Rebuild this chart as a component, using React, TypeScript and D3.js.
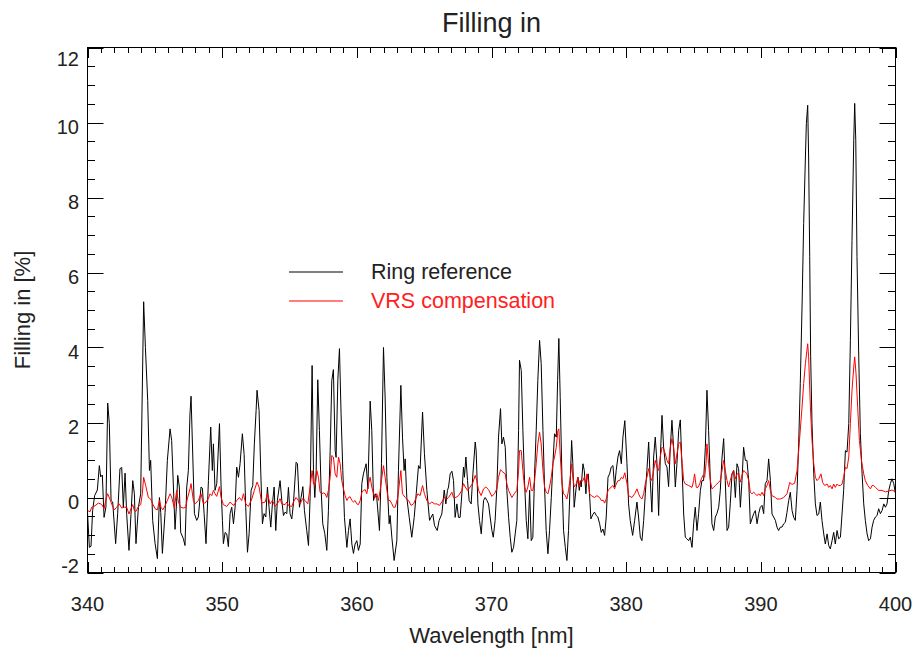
import React, { useEffect, useRef } from 'react';
import * as d3 from 'd3';

// wavelength [nm], filling in [%]
const ringReference: [number, number][] = [
  [340.0, -0.4], [340.14, -1.33], [340.26, -1.3], [340.38, -0.35], [340.53, 0.05], [340.73, 0.2],
  [340.88, 0.85], [340.98, 0.55], [341.1, 0.6], [341.23, -0.53], [341.37, -0.25], [341.5, 2.52],
  [341.62, 1.97], [341.75, -0.08], [341.87, -0.12], [342.09, -1.23], [342.24, -0.43], [342.41, 0.77],
  [342.54, 0.8], [342.66, -0.26], [342.79, 0.65], [342.91, -0.45], [343.08, -1.41], [343.23, -0.45],
  [343.36, 0.45], [343.48, 0.1], [343.6, -1.23], [343.78, -0.26], [343.95, 0.1], [344.17, 5.22],
  [344.3, 4.0], [344.47, 2.59], [344.6, 0.72], [344.69, 0.99], [344.84, -0.61], [345.02, -1.23],
  [345.19, -1.63], [345.34, 0.0], [345.44, -0.4], [345.56, -1.49], [345.76, -0.4], [345.93, 0.99],
  [346.13, 1.83], [346.25, 1.52], [346.38, 0.28], [346.5, -0.85], [346.62, -0.1], [346.7, 0.59],
  [346.82, 0.28], [346.92, -0.93], [347.12, -1.1], [347.24, -1.28], [347.37, 0.28], [347.49, 0.72],
  [347.61, 2.23], [347.69, 2.7], [347.94, -0.43], [348.11, -0.61], [348.23, -0.52], [348.43, 0.28],
  [348.53, 0.25], [348.66, -0.43], [348.8, -1.23], [348.98, 0.45], [349.15, 1.88], [349.27, 0.72],
  [349.35, 1.43], [349.47, 0.19], [349.6, 0.37], [349.8, 1.97], [349.92, 0.28], [350.02, -0.61],
  [350.09, -1.23], [350.22, -0.93], [350.34, -0.97], [350.46, -1.31], [350.59, -0.43], [350.71, -0.26],
  [350.84, -0.7], [350.96, -0.26], [351.08, 0.81], [351.21, 0.54], [351.33, 0.9], [351.5, 1.7],
  [351.63, 1.15], [351.75, -0.26], [351.88, -1.46], [352.0, -0.97], [352.15, 0.19], [352.27, 0.32],
  [352.39, 1.43], [352.52, 2.32], [352.59, 2.86], [352.74, 2.32], [352.87, 0.63], [352.99, -0.7],
  [353.11, -0.43], [353.24, -0.52], [353.36, 0.28], [353.48, -0.26], [353.61, -0.79], [353.73, -0.17],
  [353.86, 0.28], [353.98, -0.88], [354.1, -0.08], [354.3, 0.45], [354.43, -0.08], [354.55, -0.48],
  [354.67, -0.39], [354.8, -0.43], [354.92, 0.27], [355.04, -0.43], [355.17, -0.57], [355.29, -0.17],
  [355.49, 0.94], [355.59, 0.9], [355.74, -0.26], [355.86, 0.0], [355.99, 0.29], [356.11, -0.35],
  [356.28, -0.88], [356.41, -1.28], [356.53, 0.0], [356.68, 3.52], [356.78, 0.72], [356.88, 0.0],
  [356.98, 0.72], [357.1, 3.14], [357.22, 1.79], [357.35, 0.19], [357.47, -0.7], [357.62, -0.96],
  [357.77, -1.41], [357.89, -0.35], [358.02, 1.25], [358.14, 3.12], [358.26, 3.41], [358.39, 1.25],
  [358.46, 1.07], [358.59, 3.14], [358.71, 3.97], [358.83, 2.23], [358.96, 0.72], [359.08, -0.53],
  [359.26, -1.33], [359.38, -0.88], [359.5, -0.57], [359.63, -1.24], [359.75, -1.49], [359.87, -1.24],
  [360.0, -1.15], [360.12, -1.41], [360.25, -1.24], [360.37, 0.37], [360.49, 0.63], [360.69, 0.9],
  [360.82, 0.23], [360.99, 2.57], [361.11, 1.79], [361.24, -0.08], [361.36, 0.1], [361.48, 0.0],
  [361.68, -0.88], [361.83, 0.9], [361.98, 4.0], [362.1, 2.68], [362.23, 0.54], [362.4, -0.7],
  [362.47, -0.48], [362.6, -1.06], [362.77, -1.68], [362.97, -1.15], [363.09, 0.72], [363.27, 2.99],
  [363.39, 1.61], [363.51, 0.72], [363.59, 1.03], [363.71, 0.0], [363.89, -0.53], [364.08, -1.06],
  [364.26, -0.53], [364.41, 0.1], [364.58, 0.85], [364.7, 0.77], [364.88, 2.28], [365.02, 1.17],
  [365.2, 0.19], [365.4, -0.61], [365.52, -0.52], [365.64, -0.44], [365.77, -0.75], [365.97, -0.88],
  [366.11, -0.61], [366.31, -0.44], [366.49, 0.2], [366.61, -0.17], [366.73, 0.19], [366.81, 0.28],
  [366.93, 0.63], [367.06, 0.7], [367.18, 0.45], [367.3, -0.53], [367.43, -0.17], [367.55, -0.53],
  [367.67, -0.53], [367.8, 0.1], [367.92, 0.81], [367.99, 0.54], [368.1, 1.08], [368.22, 0.45],
  [368.34, -0.08], [368.49, -0.17], [368.62, 0.63], [368.79, 1.48], [368.86, 1.25], [368.99, -0.17],
  [369.11, -0.61], [369.24, -0.97], [369.41, -0.08], [369.53, 0.0], [369.66, -0.08], [369.78, -0.17],
  [369.9, -0.52], [370.03, -0.88], [370.13, -1.06], [370.27, -0.61], [370.4, 0.28], [370.52, 1.61],
  [370.67, 2.37], [370.77, 1.43], [370.89, 1.61], [371.02, 1.34], [371.14, 0.19], [371.27, -0.53],
  [371.39, -1.06], [371.51, -1.46], [371.64, -1.33], [371.76, -0.97], [371.88, -0.61], [372.01, 1.79],
  [372.08, 3.66], [372.21, 3.39], [372.33, 1.79], [372.45, 0.45], [372.58, -0.61], [372.7, -1.1],
  [372.83, 0.19], [372.95, -1.15], [373.07, -1.06], [373.2, 0.63], [373.32, 1.79], [373.44, 3.12],
  [373.57, 4.19], [373.69, 3.57], [373.82, 1.79], [373.94, 0.28], [374.06, -0.88], [374.19, -1.5],
  [374.31, -0.88], [374.44, 0.0], [374.56, 0.9], [374.68, 1.7], [374.81, 1.61], [374.91, 3.12],
  [375.0, 4.24], [375.1, 2.7], [375.23, 0.54], [375.35, -0.88], [375.48, -1.33], [375.6, -1.68],
  [375.72, -0.88], [375.85, 0.45], [375.95, 1.52], [376.04, 0.9], [376.14, -0.26], [376.29, 0.28],
  [376.42, 0.54], [376.52, 0.19], [376.59, 0.45], [376.66, 0.28], [376.79, 0.9], [376.89, 0.72],
  [377.01, 0.1], [377.08, 0.54], [377.18, 0.63], [377.28, 0.1], [377.38, -0.57], [377.53, -0.45],
  [377.65, -0.39], [377.78, -0.48], [377.9, -0.52], [378.03, -0.7], [378.15, -0.93], [378.27, -0.84],
  [378.4, -1.01], [378.52, -0.52], [378.65, 0.54], [378.77, 0.63], [378.89, 0.81], [379.02, 0.85],
  [379.14, 0.28], [379.26, 0.72], [379.39, 1.08], [379.51, 1.25], [379.64, 0.9], [379.76, 1.61],
  [379.9, 2.05], [380.06, 0.9], [380.18, -0.17], [380.3, -0.61], [380.48, -1.01], [380.63, -0.61],
  [380.8, -0.12], [380.92, -0.52], [381.05, -1.06], [381.17, -1.15], [381.3, -0.61], [381.42, 0.1],
  [381.54, 0.72], [381.67, 1.48], [381.79, 0.45], [381.91, -0.39], [382.04, 1.08], [382.16, 1.61],
  [382.29, 0.9], [382.41, -0.48], [382.53, 1.0], [382.66, 2.19], [382.78, 1.34], [382.91, 0.9],
  [383.03, 0.81], [383.15, 0.29], [383.28, 1.34], [383.4, 2.06], [383.52, 1.34], [383.65, 0.28],
  [383.77, 0.9], [383.9, 1.79], [384.02, 2.07], [384.14, 0.9], [384.27, -0.44], [384.39, -1.06],
  [384.51, -1.1], [384.64, -1.15], [384.76, -1.06], [384.89, -1.33], [385.01, -0.7], [385.13, -0.26],
  [385.26, -0.88], [385.38, -0.43], [385.51, 0.19], [385.63, 0.45], [385.75, 0.45], [385.88, 1.34],
  [386.0, 2.86], [386.12, 1.79], [386.25, 0.45], [386.37, -0.7], [386.5, -0.88], [386.62, -0.52],
  [386.74, -0.43], [386.87, -0.26], [386.99, 0.19], [387.12, 1.08], [387.24, 1.57], [387.36, 0.45],
  [387.49, -0.88], [387.61, -0.79], [387.73, -0.17], [387.86, 0.63], [387.98, 0.72], [388.11, 0.0],
  [388.23, 0.9], [388.35, 0.77], [388.48, -0.26], [388.6, 0.45], [388.72, 1.34], [388.85, 0.99],
  [388.97, 0.99], [389.1, 0.45], [389.22, -0.7], [389.34, -0.57], [389.47, -0.43], [389.59, -0.35],
  [389.72, -0.7], [389.84, -0.43], [389.96, -0.26], [390.09, -0.21], [390.21, -0.43], [390.33, 0.37],
  [390.46, 0.45], [390.58, 1.03], [390.71, 0.45], [390.83, -0.44], [390.95, -0.52], [391.08, -0.61],
  [391.2, -0.79], [391.32, -0.88], [391.45, -0.79], [391.57, -0.79], [391.7, -0.7], [391.82, -0.66],
  [391.94, -0.4], [392.07, -0.08], [392.19, 0.14], [392.32, -0.35], [392.44, -0.53], [392.56, -0.61],
  [392.69, 0.19], [392.81, 1.43], [392.93, 3.04], [393.06, 5.08], [393.18, 7.31], [393.31, 9.08],
  [393.38, 9.97], [393.48, 10.46], [393.55, 9.08], [393.63, 6.42], [393.7, 3.75], [393.8, 1.97],
  [393.93, 0.63], [394.05, -0.17], [394.17, -0.48], [394.3, -0.44], [394.42, -0.12], [394.54, -0.61],
  [394.67, -0.97], [394.79, -1.24], [394.92, -0.97], [395.04, -1.28], [395.16, -1.37], [395.29, -1.15],
  [395.41, -0.93], [395.53, -1.24], [395.66, -0.88], [395.78, -1.1], [395.91, -1.06], [396.03, -0.44],
  [396.15, 0.19], [396.28, 1.25], [396.4, 1.21], [396.53, 1.97], [396.65, 4.19], [396.77, 6.86],
  [396.9, 9.53], [396.97, 10.51], [397.05, 9.53], [397.14, 6.42], [397.27, 3.75], [397.39, 1.7],
  [397.52, 0.63], [397.64, -0.17], [397.76, -0.61], [397.89, -0.97], [398.01, -1.15], [398.14, -1.1],
  [398.26, -0.79], [398.38, -0.61], [398.51, -0.52], [398.63, -0.48], [398.75, -0.3], [398.88, -0.43],
  [399.0, -0.35], [399.13, -0.17], [399.25, -0.26], [399.37, -0.17], [399.5, 0.19], [399.62, 0.37],
  [399.74, 0.5], [399.87, 0.37], [400.0, 0.1],
];

const vrsCompensation: [number, number][] = [
  [340.0, -0.35], [340.19, -0.38], [340.31, -0.26], [340.56, -0.22], [340.8, -0.15], [341.05, -0.18],
  [341.23, -0.3], [341.37, -0.05], [341.5, 0.1], [341.67, -0.05], [341.8, -0.18], [341.99, -0.33],
  [342.17, -0.26], [342.36, -0.17], [342.54, -0.28], [342.74, -0.26], [342.91, -0.26], [343.08, -0.44],
  [343.23, -0.3], [343.36, -0.19], [343.48, -0.35], [343.6, -0.37], [343.78, -0.24], [343.95, -0.19],
  [344.07, 0.1], [344.17, 0.54], [344.32, 0.32], [344.52, 0.0], [344.69, -0.04], [344.84, -0.17],
  [345.02, -0.3], [345.19, -0.33], [345.34, -0.08], [345.46, -0.26], [345.59, -0.33], [345.76, -0.22],
  [345.93, -0.08], [346.13, 0.1], [346.25, 0.01], [346.45, -0.28], [346.62, 0.19], [346.75, -0.12],
  [346.92, -0.26], [347.12, -0.28], [347.29, -0.26], [347.41, -0.04], [347.61, 0.23], [347.69, 0.37],
  [347.86, -0.08], [347.99, -0.17], [348.23, -0.08], [348.43, 0.1], [348.61, -0.17], [348.8, -0.12],
  [348.98, -0.03], [349.1, 0.1], [349.23, 0.05], [349.35, 0.19], [349.47, 0.1], [349.6, 0.03],
  [349.8, 0.29], [349.92, 0.0], [350.09, -0.19], [350.34, -0.24], [350.59, -0.12], [350.71, -0.17],
  [350.88, -0.21], [351.08, -0.08], [351.28, 0.0], [351.45, -0.08], [351.58, 0.1], [351.75, -0.17],
  [351.95, -0.24], [352.2, -0.04], [352.39, 0.19], [352.59, 0.41], [352.74, 0.28], [352.94, -0.15],
  [353.19, -0.12], [353.36, 0.1], [353.56, -0.17], [353.73, -0.08], [353.93, -0.24], [354.18, -0.12],
  [354.3, -0.03], [354.43, -0.17], [354.67, -0.19], [354.8, -0.12], [354.92, -0.21], [355.17, -0.24],
  [355.29, -0.12], [355.49, 0.0], [355.66, -0.08], [355.79, -0.17], [355.99, -0.02], [356.16, -0.08],
  [356.36, -0.17], [356.53, 0.28], [356.68, 0.72], [356.78, 0.36], [356.9, 0.32], [357.03, 0.72],
  [357.15, 0.54], [357.27, 0.14], [357.4, 0.1], [357.52, 0.12], [357.65, 0.1], [357.77, 0.0],
  [357.89, 0.19], [358.02, 0.54], [358.14, 1.12], [358.26, 1.08], [358.39, 0.63], [358.51, 0.54],
  [358.64, 1.08], [358.76, 0.9], [358.88, 0.45], [359.01, 0.23], [359.13, 0.05], [359.26, -0.08],
  [359.38, 0.0], [359.5, 0.02], [359.63, -0.08], [359.75, -0.12], [359.87, -0.08], [360.0, -0.17],
  [360.12, -0.19], [360.25, -0.08], [360.37, 0.14], [360.49, 0.19], [360.62, 0.21], [360.74, 0.1],
  [360.87, 0.37], [360.99, 0.54], [361.11, 0.28], [361.24, 0.1], [361.36, 0.0], [361.48, 0.1],
  [361.61, -0.08], [361.73, 0.19], [361.86, 0.54], [361.98, 0.85], [362.1, 0.54], [362.23, 0.19],
  [362.35, -0.08], [362.47, -0.08], [362.6, -0.17], [362.72, -0.26], [362.85, -0.26], [363.04, 0.0],
  [363.27, 0.72], [363.39, 0.1], [363.59, 0.0], [363.84, -0.08], [364.03, -0.21], [364.21, -0.17],
  [364.38, -0.03], [364.53, 0.1], [364.7, 0.05], [364.88, 0.32], [365.02, 0.1], [365.2, -0.08],
  [365.4, -0.17], [365.57, -0.12], [365.77, -0.17], [365.94, -0.17], [366.14, -0.21], [366.31, -0.12],
  [366.49, 0.0], [366.68, -0.04], [366.81, 0.0], [367.06, 0.14], [367.18, 0.0], [367.35, 0.0],
  [367.55, 0.05], [367.8, 0.19], [367.92, 0.37], [368.05, 0.28], [368.22, 0.19], [368.42, 0.28],
  [368.59, 0.37], [368.79, 0.59], [368.91, 0.45], [369.04, 0.19], [369.23, 0.05], [369.41, 0.23],
  [369.58, 0.28], [369.78, 0.21], [370.03, 0.03], [370.22, 0.1], [370.4, 0.23], [370.52, 0.54],
  [370.67, 0.74], [370.84, 0.68], [371.02, 0.63], [371.14, 0.36], [371.27, 0.19], [371.51, 0.0],
  [371.69, 0.1], [371.88, 0.19], [372.01, 0.72], [372.08, 1.25], [372.21, 1.25], [372.33, 0.72],
  [372.45, 0.28], [372.58, 0.14], [372.7, 0.28], [372.83, 0.54], [372.95, 0.19], [373.07, 0.19],
  [373.2, 0.45], [373.32, 0.9], [373.44, 1.43], [373.57, 1.74], [373.69, 1.43], [373.82, 0.72],
  [373.94, 0.28], [374.06, 0.14], [374.19, 0.1], [374.31, 0.28], [374.44, 0.54], [374.56, 0.9],
  [374.68, 1.08], [374.81, 1.34], [374.93, 1.79], [375.0, 1.83], [375.1, 1.16], [375.23, 0.37],
  [375.35, 0.1], [375.48, 0.05], [375.6, -0.04], [375.72, 0.19], [375.85, 0.54], [375.95, 0.9],
  [376.04, 0.54], [376.14, 0.28], [376.29, 0.36], [376.42, 0.54], [376.52, 0.28], [376.59, 0.41],
  [376.79, 0.45], [376.89, 0.54], [377.01, 0.36], [377.08, 0.63], [377.18, 0.45], [377.28, 0.1],
  [377.41, 0.05], [377.65, 0.0], [377.83, 0.05], [378.03, 0.0], [378.15, -0.08], [378.32, -0.08],
  [378.4, -0.15], [378.52, -0.04], [378.65, 0.19], [378.77, 0.23], [378.89, 0.28], [379.02, 0.32],
  [379.14, 0.23], [379.26, 0.36], [379.39, 0.45], [379.51, 0.45], [379.64, 0.54], [379.76, 0.5],
  [379.9, 0.66], [380.06, 0.37], [380.18, 0.05], [380.43, 0.0], [380.63, 0.1], [380.8, 0.23],
  [380.92, 0.1], [381.05, 0.0], [381.17, -0.04], [381.3, 0.1], [381.42, 0.37], [381.54, 0.54],
  [381.67, 0.77], [381.79, 0.54], [381.91, 0.45], [382.04, 0.72], [382.16, 0.99], [382.29, 0.81],
  [382.41, 0.72], [382.53, 1.08], [382.66, 1.34], [382.78, 1.3], [382.91, 1.16], [383.03, 0.99],
  [383.15, 0.9], [383.28, 1.34], [383.4, 1.57], [383.52, 1.34], [383.65, 0.9], [383.77, 1.16],
  [383.9, 1.43], [384.02, 1.48], [384.14, 0.99], [384.27, 0.45], [384.39, 0.36], [384.64, 0.32],
  [384.89, 0.27], [385.01, 0.45], [385.08, 0.63], [385.21, 0.27], [385.33, 0.27], [385.46, 0.36],
  [385.58, 0.5], [385.7, 0.59], [385.83, 0.54], [385.93, 0.9], [386.0, 1.43], [386.12, 0.9],
  [386.25, 0.45], [386.37, 0.23], [386.5, 0.27], [386.62, 0.32], [386.74, 0.36], [386.87, 0.41],
  [386.99, 0.45], [387.12, 0.72], [387.24, 0.99], [387.36, 0.72], [387.49, 0.45], [387.61, 0.28],
  [387.73, 0.45], [387.86, 0.63], [387.98, 0.72], [388.11, 0.5], [388.23, 0.63], [388.35, 0.63],
  [388.48, 0.41], [388.6, 0.59], [388.72, 0.72], [388.85, 0.68], [388.97, 0.63], [389.1, 0.45],
  [389.22, 0.14], [389.34, 0.1], [389.47, 0.14], [389.59, 0.1], [389.72, 0.05], [389.84, 0.1],
  [389.96, 0.05], [390.09, 0.14], [390.21, 0.05], [390.33, 0.23], [390.46, 0.32], [390.58, 0.45],
  [390.71, 0.19], [390.83, 0.05], [391.08, 0.0], [391.2, -0.04], [391.45, -0.04], [391.7, 0.0],
  [391.94, 0.1], [392.07, 0.28], [392.14, 0.4], [392.32, 0.35], [392.51, 0.38], [392.69, 0.72],
  [392.81, 1.25], [392.93, 1.8], [393.06, 2.41], [393.18, 3.04], [393.31, 3.57], [393.48, 4.1],
  [393.55, 3.75], [393.68, 2.41], [393.8, 1.52], [393.93, 0.9], [394.05, 0.54], [394.17, 0.45],
  [394.3, 0.5], [394.47, 0.63], [394.59, 0.4], [394.74, 0.32], [394.92, 0.36], [395.04, 0.27],
  [395.16, 0.32], [395.29, 0.23], [395.41, 0.36], [395.53, 0.27], [395.66, 0.36], [395.78, 0.32],
  [395.91, 0.32], [396.03, 0.36], [396.15, 0.54], [396.28, 0.81], [396.4, 0.77], [396.53, 1.08],
  [396.65, 1.97], [396.77, 2.86], [396.9, 3.48], [396.97, 3.75], [397.07, 3.3], [397.19, 2.41],
  [397.32, 1.52], [397.47, 0.99], [397.64, 0.63], [397.76, 0.45], [397.94, 0.32], [398.14, 0.23],
  [398.26, 0.32], [398.38, 0.32], [398.51, 0.27], [398.63, 0.23], [398.75, 0.19], [399.0, 0.19],
  [399.25, 0.15], [399.5, 0.17], [399.74, 0.2], [400.0, 0.15],
];

const xTicks = [340, 350, 360, 370, 380, 390, 400];
const yTicks = [-2, 0, 2, 4, 6, 8, 10, 12];

const series = [
  { name: 'Ring reference', values: ringReference, color: '#000000', text: '#222222' },
  { name: 'VRS compensation', values: vrsCompensation, color: '#ff0000', text: '#ff2020' },
];

const FONT = '"Liberation Sans", Arial, Helvetica, sans-serif';

const FillingInChart = () => {
  const svgRef = useRef<SVGSVGElement>(null);

  useEffect(() => {
    const width = 916;
    const height = 651;
    const left = 87.5;
    const right = 895.5;
    const top = 47.5;
    const bottom = 572.5;

    const svg = d3.select(svgRef.current).attr('width', width).attr('height', height);
    svg.selectAll('*').remove();

    const x = d3.scaleLinear().domain([340, 400]).range([left, right]);
    const y = d3.scaleLinear().domain([-2, 12]).range([bottom, top]);

    const clip = svg.append('clipPath').attr('id', 'plot-clip');
    clip.append('rect').attr('x', left).attr('y', top).attr('width', right - left).attr('height', bottom - top);

    const line = d3
      .line<[number, number]>()
      .x((d) => x(d[0]))
      .y((d) => y(d[1]));

    // black first, red on top
    svg
      .append('g')
      .attr('clip-path', 'url(#plot-clip)')
      .selectAll('path')
      .data(series)
      .enter()
      .append('path')
      .attr('d', (d) => line(d.values))
      .style('fill', 'none')
      .style('stroke', (d) => d.color)
      .style('stroke-width', 1)
      .style('stroke-linejoin', 'round');

    // frame
    svg
      .append('rect')
      .attr('x', left)
      .attr('y', top)
      .attr('width', right - left)
      .attr('height', bottom - top)
      .style('fill', 'none')
      .style('stroke', '#000')
      .style('stroke-width', 1);

    const ticks = svg.append('g').style('stroke', '#000').style('stroke-width', 1);

    // x ticks, top and bottom
    const xMinor = d3.range(340, 401, 1);
    xMinor.forEach((v) => {
      const len = v % 10 === 0 ? 10.5 : 5.5;
      const px = Math.round(x(v)) + 0.5;
      ticks.append('line').attr('x1', px).attr('x2', px).attr('y1', bottom).attr('y2', bottom - len);
      ticks.append('line').attr('x1', px).attr('x2', px).attr('y1', top).attr('y2', top + len);
    });

    // y ticks, left and right
    const yMinor = d3.range(-2, 12.01, 0.5);
    yMinor.forEach((v) => {
      const len = Math.abs(v % 2) < 1e-6 ? 16 : 7.5;
      const py = Math.round(y(v)) + 0.5;
      ticks.append('line').attr('x1', left).attr('x2', left + len).attr('y1', py).attr('y2', py);
      ticks.append('line').attr('x1', right).attr('x2', right - len).attr('y1', py).attr('y2', py);
    });

    const labels = svg.append('g').attr('font-family', FONT).style('fill', '#222');

    labels
      .selectAll('text.xt')
      .data(xTicks)
      .enter()
      .append('text')
      .attr('class', 'xt')
      .attr('x', (d) => x(d))
      .attr('y', 611)
      .attr('text-anchor', 'middle')
      .attr('font-size', 20)
      .text((d) => d);

    labels
      .selectAll('text.yt')
      .data(yTicks)
      .enter()
      .append('text')
      .attr('class', 'yt')
      .attr('x', 79)
      .attr('y', (d) => Math.min(Math.max(y(d) + 11, 66), 573))
      .attr('text-anchor', 'end')
      .attr('font-size', 20)
      .text((d) => d);

    labels
      .append('text')
      .attr('x', (left + right) / 2)
      .attr('y', 31.5)
      .attr('text-anchor', 'middle')
      .attr('font-size', 27)
      .text('Filling in');

    labels
      .append('text')
      .attr('x', (left + right) / 2)
      .attr('y', 643)
      .attr('text-anchor', 'middle')
      .attr('font-size', 22)
      .text('Wavelength [nm]');

    labels
      .append('text')
      .attr('transform', `translate(30, ${(top + bottom) / 2}) rotate(-90)`)
      .attr('text-anchor', 'middle')
      .attr('font-size', 22)
      .text('Filling in [%]');

    // legend, lines straddle two pixel rows like the original
    const legend = svg.append('g').attr('font-family', FONT);
    series.forEach((s, i) => {
      const ly = 272 + i * 29;
      legend
        .append('path')
        .attr('d', `M289,${ly}H343`)
        .style('fill', 'none')
        .style('stroke', s.color)
        .style('stroke-width', 1.2);
      legend
        .append('text')
        .attr('x', 371)
        .attr('y', ly + 6.5)
        .attr('font-size', 21.5)
        .style('fill', s.text)
        .text(s.name);
    });
  }, []);

  return <svg ref={svgRef} style={{ display: 'block' }} />;
};

export default function App() {
  return (
    <div style={{ position: 'fixed', left: 0, top: 0, background: '#fff' }}>
      <FillingInChart />
    </div>
  );
}
